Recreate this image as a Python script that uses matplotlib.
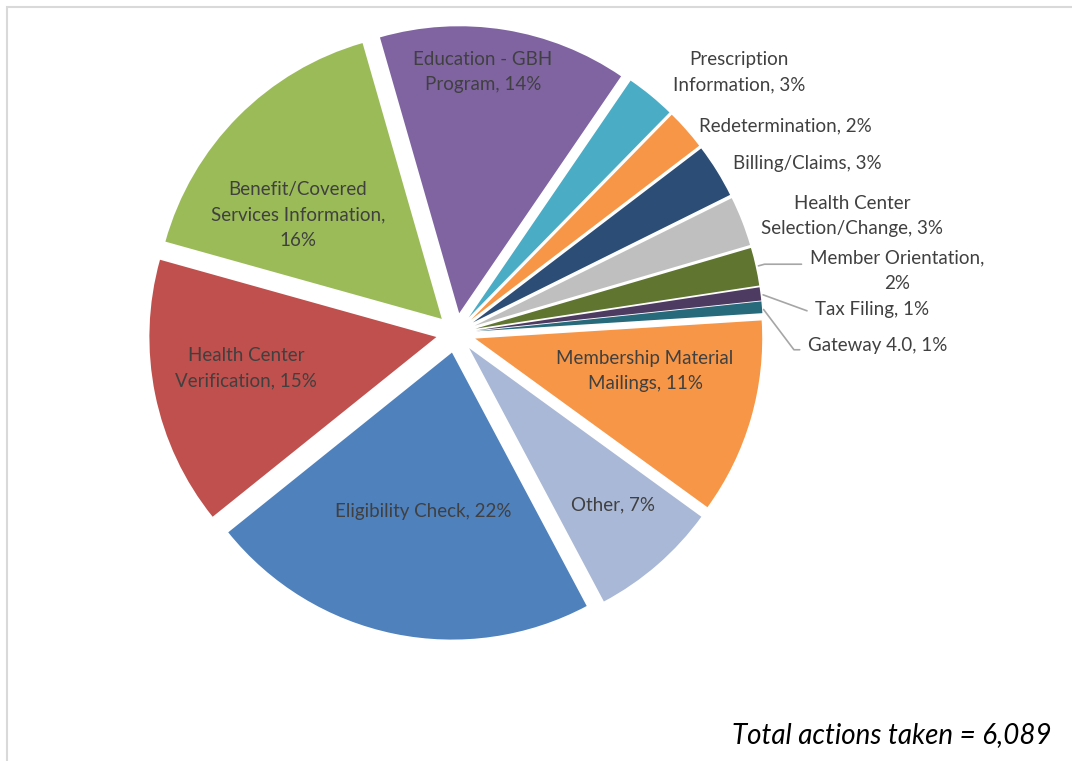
import numpy as np
import matplotlib.pyplot as plt
from matplotlib.patches import Rectangle

plt.rcParams['font.family'] = ['Lato', 'DejaVu Sans']

# Actions taken by category (counts, total 6,089)
categories = ['Eligibility Check', 'Health Center\nVerification', 'Benefit/Covered\nServices Information',
              'Education - GBH\nProgram', 'Prescription\nInformation', 'Redetermination', 'Billing/Claims',
              'Health Center\nSelection/Change', 'Member Orientation', 'Tax Filing', 'Gateway 4.0',
              'Membership Material\nMailings', 'Other']
counts = [1340, 920, 987, 852, 170, 140, 185, 170, 130, 45, 40, 670, 440]
colors = ['#4F81BD', '#C0504D', '#9BBB59', '#8064A2', '#4BACC6', '#F79646', '#2C4D75',
          '#BFBFBF', '#5F7530', '#4D3B62', '#276A7C', '#F79646', '#A9B8D6']
total_text = 'Total actions taken = 6,089'

# labels where the percentage goes on its own line
pct_newline = ['Benefit/Covered\nServices Information', 'Member Orientation']
# labels drawn with a leader line: (angle of slanted segment, vertical attach point on text)
leader = {'Member Orientation': (15, 0.66), 'Tax Filing': (-20, 0.22), 'Gateway 4.0': (-53, 0.22)}

# label anchor in image pixels (x, y from top) and horizontal alignment
label_pos = [(423, 511, 'center'), (246, 368, 'center'), (298, 215, 'center'), (483, 72, 'center'),
             (739, 72, 'center'), (699, 126, 'left'), (733, 163, 'left'), (852, 216, 'center'),
             (897, 271, 'center'), (815, 310, 'left'), (808, 345, 'left'), (645, 371, 'center'),
             (613, 505, 'center')]

W, H = 1072, 761
fig = plt.figure(figsize=(W / 100, H / 100), dpi=100)
ax = fig.add_axes([0, 0, 1, 1])

total = sum(counts)
wedges, _ = ax.pie(counts, colors=colors, startangle=-62, counterclock=False,
                   center=(456, H - 333), radius=287, explode=[20] * len(counts),
                   wedgeprops=dict(linewidth=0))

fs = 13.5
for w, name, c, (x, y, ha) in zip(wedges, categories, counts, label_pos):
    pct = round(100 * c / total)
    sep = ',\n' if name in pct_newline else ', '
    txt = f'{name}{sep}{pct}%'
    if name in leader:
        ang, ry = leader[name]
        mid = np.deg2rad((w.theta1 + w.theta2) / 2)
        cx, cy = w.center
        px, py = cx + w.r * np.cos(mid), cy + w.r * np.sin(mid)
        ax.annotate(txt, xy=(px, py), xytext=(x, H - y), ha=ha, va='center',
                    fontsize=fs, color='#404040', linespacing=1.6, multialignment='center',
                    arrowprops=dict(arrowstyle='-', color='#a6a6a6', lw=1.2, relpos=(0, ry),
                                    shrinkA=4, shrinkB=2,
                                    connectionstyle=f'angle,angleA=180,angleB={ang},rad=0'))
    else:
        ax.text(x, H - y, txt, ha=ha, va='center', fontsize=fs, color='#404040',
                linespacing=1.6, multialignment='center')

ax.text(1052, H - 735, total_text, ha='right', va='center', fontsize=20, style='italic', color='black')

ax.add_patch(Rectangle((6.5, -20), 1100, (H - 7) + 20, fill=False, edgecolor='#d9d9d9', lw=1.5, clip_on=False))

ax.set_xlim(0, W)
ax.set_ylim(0, H)
ax.axis('off')
fig.savefig('out.png', dpi=100)
